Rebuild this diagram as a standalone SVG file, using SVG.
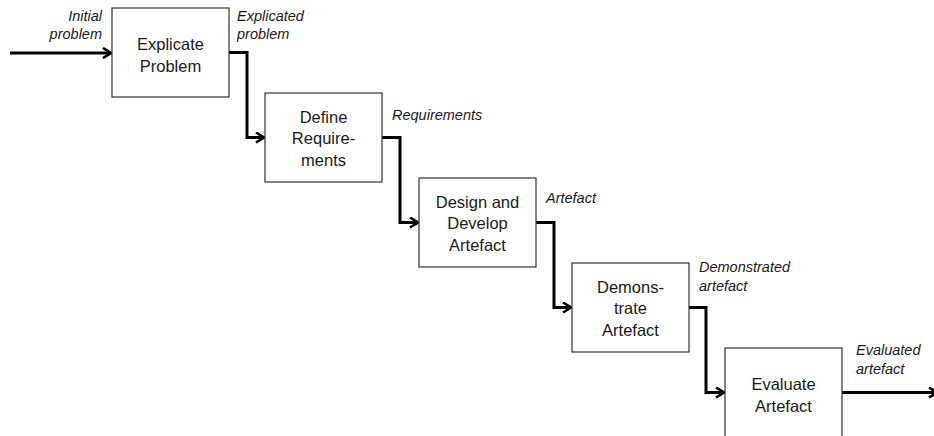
<svg xmlns="http://www.w3.org/2000/svg" width="934" height="436" viewBox="0 0 934 436">
  <style>
    .box { fill: #ffffff; stroke: #333333; stroke-width: 1.2; }
    .step { font-family: "Liberation Sans", Arial, sans-serif; font-size: 16.5px; fill: #1a1a1a; text-anchor: middle; }
    .out { font-family: "Liberation Sans", Arial, sans-serif; font-size: 14.5px; font-style: italic; fill: #1a1a1a; }
    .flow { fill: none; stroke: #000000; stroke-width: 3; stroke-linejoin: miter; }
  </style>
  <defs>
    <marker id="chevron" viewBox="0 0 10 12" refX="9" refY="6" markerWidth="10" markerHeight="12" markerUnits="userSpaceOnUse" orient="auto">
      <path d="M1,1 L9,6 L1,11" fill="none" stroke="#000000" stroke-width="2.6"/>
    </marker>
  </defs>
  <rect width="934" height="436" fill="#ffffff"/>

  <g id="connectors">
    <path class="flow" d="M10,53 H111" marker-end="url(#chevron)"/>
    <path class="flow" d="M229,52.5 H247 V137.5 H264" marker-end="url(#chevron)"/>
    <path class="flow" d="M382,137.5 H400 V222.5 H418" marker-end="url(#chevron)"/>
    <path class="flow" d="M536,222.5 H554 V307.5 H571" marker-end="url(#chevron)"/>
    <path class="flow" d="M689,307.5 H706 V392.5 H724" marker-end="url(#chevron)"/>
    <path class="flow" d="M842,392.5 H937" marker-end="url(#chevron)"/>
  </g>

  <g id="explicate-problem">
    <rect class="box" x="112" y="8" width="117" height="89"/>
    <text class="step" x="170.5" y="50">Explicate</text>
    <text class="step" x="170.5" y="71.5">Problem</text>
  </g>
  <g id="define-requirements">
    <rect class="box" x="265" y="93" width="117" height="89"/>
    <text class="step" x="323.5" y="122.5">Define</text>
    <text class="step" x="323.5" y="144">Require-</text>
    <text class="step" x="323.5" y="165.5">ments</text>
  </g>
  <g id="design-develop">
    <rect class="box" x="419" y="178" width="117" height="89"/>
    <text class="step" x="477.5" y="207.5">Design and</text>
    <text class="step" x="477.5" y="229">Develop</text>
    <text class="step" x="477.5" y="250.5">Artefact</text>
  </g>
  <g id="demonstrate">
    <rect class="box" x="572" y="263" width="117" height="89"/>
    <text class="step" x="630.5" y="292.5">Demons-</text>
    <text class="step" x="630.5" y="314">trate</text>
    <text class="step" x="630.5" y="335.5">Artefact</text>
  </g>
  <g id="evaluate">
    <rect class="box" x="725" y="348" width="117" height="95"/>
    <text class="step" x="783.5" y="390">Evaluate</text>
    <text class="step" x="783.5" y="411.5">Artefact</text>
  </g>

  <g id="labels">
    <text class="out" x="102" y="21" text-anchor="end">Initial</text>
    <text class="out" x="102" y="39" text-anchor="end">problem</text>
    <text class="out" x="237" y="21">Explicated</text>
    <text class="out" x="237" y="39">problem</text>
    <text class="out" x="392" y="120">Requirements</text>
    <text class="out" x="546" y="202.5">Artefact</text>
    <text class="out" x="699" y="272">Demonstrated</text>
    <text class="out" x="699" y="291">artefact</text>
    <text class="out" x="856" y="355">Evaluated</text>
    <text class="out" x="856" y="374">artefact</text>
  </g>
</svg>
